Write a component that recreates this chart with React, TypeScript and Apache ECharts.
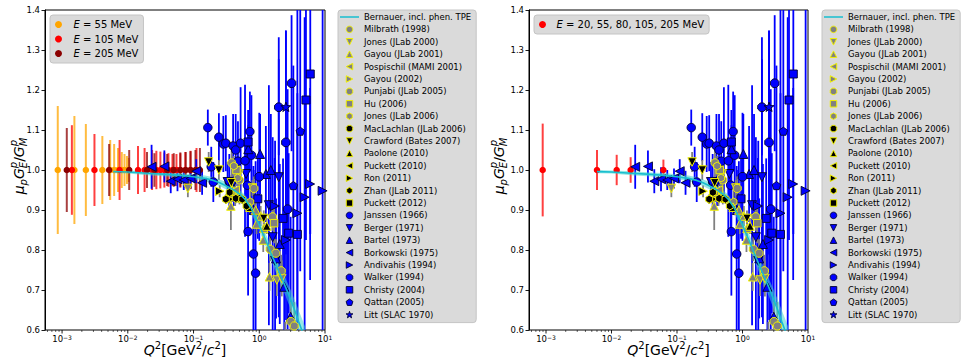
import React, { useEffect, useRef } from 'react';
import * as echarts from 'echarts';

const FONT = 'DejaVu Sans';
const CYAN = '#17becf';
const BAND = 'rgba(64,214,208,0.55)';

// Low-Q² ratios at fixed beam energy: [Q² (GeV²/c²), μp·GE/GM, uncertainty]
const e55Points = [
  [8.6e-4, 1, 0.16], [1.54e-3, 1, 0.135], [2.3e-3, 1, 0.115], [4.1e-3, 1, 0.085],
  [5.4e-3, 1, 0.075], [6.2e-3, 1, 0.065], [7.1e-3, 1, 0.055], [8.1e-3, 1, 0.045],
  [8.9e-3, 1, 0.04], [9.7e-3, 1, 0.035], [1.03e-2, 1, 0.03],
];
const e105Points = [
  [1.41e-3, 1, 0.112], [3.11e-3, 1, 0.09], [7.5e-3, 1, 0.075], [1.43e-2, 1, 0.06],
  [1.8e-2, 1, 0.055], [2.34e-2, 1, 0.05], [2.72e-2, 1, 0.048], [3.13e-2, 1, 0.046],
  [3.6e-2, 1, 0.044], [4.15e-2, 1, 0.042], [4.78e-2, 1, 0.04], [5.5e-2, 1, 0.04],
  [6.3e-2, 1, 0.042], [7.5e-2, 1, 0.045], [9.0e-2, 1, 0.048], [0.111, 1, 0.055],
];
const e205Points = [
  [1.18e-3, 1, 0.105], [5.2e-3, 1, 0.065], [1.05e-2, 1, 0.05], [1.96e-2, 1, 0.045],
  [2.54e-2, 1, 0.042], [3.97e-2, 1, 0.04], [5.0e-2, 1, 0.042], [6.3e-2, 1, 0.044],
  [7.6e-2, 1, 0.045], [9.0e-2, 1, 0.047], [0.107, 1, 0.05], [0.125, 1, 0.055],
];
const allEnergyPoints = [
  [8.9e-4, 1, 0.116], [6.0e-3, 1, 0.05], [1.2e-2, 1, 0.038], [1.96e-2, 1, 0.032], [6.2e-2, 1, 0.026],
];

// Bernauer fit including phenomenological TPE
const fitQ2 = [0.006, 0.01, 0.02, 0.04, 0.07, 0.1, 0.15, 0.2, 0.25, 0.3, 0.4, 0.5, 0.6, 0.75, 1.0, 1.25, 1.5, 2.0, 2.5, 3.0, 3.5, 4.0, 4.5, 5.0];
const fitRatio = [0.996, 0.995, 0.992, 0.989, 0.986, 0.983, 0.979, 0.974, 0.968, 0.962, 0.951, 0.94, 0.928, 0.905, 0.862, 0.825, 0.793, 0.745, 0.708, 0.676, 0.647, 0.62, 0.597, 0.576];
const fitHalfWidth = [0.004, 0.004, 0.005, 0.005, 0.006, 0.006, 0.007, 0.008, 0.008, 0.009, 0.01, 0.01, 0.011, 0.012, 0.014, 0.016, 0.018, 0.02, 0.022, 0.024, 0.026, 0.028, 0.03, 0.032];

// Polarization-transfer measurements
const milbrath1998 = [[0.38, 1.018, 0.035], [0.5, 0.975, 0.04]];
const jones2000 = [[0.082, 0.954, 0.022], [0.49, 0.99, 0.02], [0.79, 0.955, 0.02], [1.85, 0.725, 0.04], [2.2, 0.729, 0.045]];
const gayou2001 = [[0.37, 0.91, 0.06], [0.39, 0.95, 0.03], [0.88, 0.9, 0.025], [0.91, 0.865, 0.025], [1.05, 0.885, 0.025], [1.15, 0.825, 0.03], [1.17, 0.854, 0.025], [1.43, 0.733, 0.035]];
const pospischil2001 = [[0.37, 0.944, 0.04], [0.43, 0.95, 0.04]];
const gayou2002 = [[3.97, 0.52, 0.05], [4.75, 0.45, 0.06], [5.54, 0.38, 0.07]];
const punjabi2005 = [[0.83, 0.954, 0.03], [1.46, 0.802, 0.03], [1.59, 0.883, 0.035], [1.79, 0.792, 0.035], [2.16, 0.748, 0.04], [3.02, 0.621, 0.05], [3.4, 0.61, 0.06]];
const hu2006 = [[0.45, 1.0, 0.03], [1.68, 0.867, 0.05]];
const jones2006 = [[0.41, 1.01, 0.025], [0.47, 0.98, 0.025], [0.73, 0.92, 0.03]];
const maclachlan2006 = [[0.5, 0.929, 0.015]];
const crawford2007 = [[0.17, 1.02, 0.025], [0.243, 1.0, 0.025], [0.376, 0.968, 0.02], [1.17, 0.879, 0.02]];
const paolone2010 = [[0.72, 0.907, 0.015], [1.3, 0.86, 0.02]];
const puckett2010 = [[5.17, 0.443, 0.04], [6.7, 0.327, 0.05], [8.49, 0.3, 0.07]];
const ron2011 = [[0.25, 0.947, 0.015], [0.36, 0.927, 0.015]];
const zhan2011 = [[0.31, 0.927, 0.012], [0.354, 0.944, 0.012], [0.44, 0.929, 0.012], [0.55, 0.927, 0.012], [0.64, 0.91, 0.012]];
const puckett2012 = [[2.48, 0.59, 0.03], [5.17, 0.42, 0.04], [6.7, 0.33, 0.05]];

// Rosenbluth separations
const janssen1966 = [
  [0.165, 1.106, 0.045], [0.186, 1.008, 0.05], [0.2, 0.97, 0.05], [0.243, 1.082, 0.06],
  [0.284, 1.065, 0.07], [0.31, 1.067, 0.07], [0.35, 0.97, 0.07], [0.4, 1.06, 0.08],
  [0.438, 1.05, 0.09], [0.474, 1.022, 0.1], [0.52, 1.067, 0.14], [0.607, 1.023, 0.19],
  [0.66, 0.962, 0.12], [0.676, 0.846, 0.16], [0.72, 1.096, 0.1], [0.76, 1.037, 0.15],
  [0.815, 0.79, 0.22], [0.88, 0.742, 0.28],
];
const berger1971 = [[0.33, 0.97, 0.05], [0.41, 0.97, 0.06], [0.63, 0.99, 0.08], [1.4, 0.912, 0.3], [1.6, 0.832, 0.25], [1.74, 0.773, 0.3], [1.98, 0.982, 0.35]];
const bartel1973 = [[0.68, 1.052, 0.06], [0.82, 0.9, 0.1], [1.03, 1.04, 0.1], [1.26, 0.99, 0.12], [1.5, 1.0, 0.14], [1.8, 0.779, 0.15], [2.05, 0.815, 0.2], [2.4, 0.708, 0.2], [3.0, 0.633, 0.25]];
const borkowski1975 = [[0.023, 1.008, 0.055], [0.036, 1.009, 0.04], [0.045, 0.972, 0.03], [0.057, 0.977, 0.03], [0.071, 0.975, 0.025], [0.09, 0.979, 0.025], [0.11, 0.997, 0.03], [0.135, 0.968, 0.03]];
const andivahis1994 = [[1.72, 0.91, 0.12], [2.55, 0.825, 0.2], [3.8, 0.892, 0.3], [4.9, 0.932, 0.45], [5.94, 0.965, 0.24], [9.2, 0.948, 0.7]];
const walker1994 = [[1.0, 0.983, 0.16], [1.98, 1.157, 0.12], [2.54, 1.069, 0.28], [2.7, 0.902, 0.3], [3.1, 1.217, 0.17]];
const christy2004 = [[0.676, 1.07, 0.08], [0.95, 0.928, 0.1], [2.3, 0.879, 0.15], [2.8, 0.842, 0.2], [3.8, 0.839, 0.6], [5.13, 1.175, 0.35], [5.97, 1.24, 0.4]];
const qattan2005 = [[3.3, 0.961, 0.3], [4.2, 1.097, 0.35]];
const litt1970 = [[2.54, 1.158, 0.19]];

// ---- marker shapes (unit coordinates, y pointing down)
function regular(n: number, start: number, inner = 0): number[][] {
  const pts: number[][] = [];
  const count = inner ? n * 2 : n;
  for (let k = 0; k < count; k++) {
    const a = start + (Math.PI * 2 * k) / count;
    const r = inner && k % 2 ? inner : 1;
    pts.push([r * Math.cos(a), r * Math.sin(a)]);
  }
  return pts;
}
const SHAPES: Record<string, number[][]> = {
  circle: regular(24, 0),
  down: [[-1, -1], [1, -1], [0, 1]],
  up: [[0, -1], [1, 1], [-1, 1]],
  left: [[-1, 0], [1, -1], [1, 1]],
  right: [[-1, -1], [1, 0], [-1, 1]],
  square: [[-1, -1], [1, -1], [1, 1], [-1, 1]],
  pentagon: regular(5, -Math.PI / 2),
  hexagon: regular(6, -Math.PI / 2),
  octagon: regular(8, Math.PI / 8),
  star: regular(5, -Math.PI / 2, 0.4),
};
const SIZES: Record<string, number> = {
  circle: 8.5, down: 9, up: 9, left: 9, right: 9, square: 8, pentagon: 8.5, hexagon: 8.5, octagon: 8.5, star: 10,
};
function symbolPath(shape: string): string {
  const v = SHAPES[shape];
  return 'path://' + v.map((p, i) => `${i ? 'L' : 'M'}${(p[0] * 5 + 5).toFixed(3)},${(p[1] * 5 + 5).toFixed(3)}`).join(' ') + ' Z';
}

type Dataset = { name: string; shape: string; fill: string; edge: string; edgeWidth: number; data: number[][]; bar: string };
const POL_EDGE = '#f2f200';
const GREY = '#808080';
const BLUE = '#0000ff';

const polarization: Dataset[] = [
  { name: 'Milbrath (1998)', shape: 'circle', fill: GREY, data: milbrath1998 },
  { name: 'Jones (JLab 2000)', shape: 'down', fill: GREY, data: jones2000 },
  { name: 'Gayou (JLab 2001)', shape: 'up', fill: GREY, data: gayou2001 },
  { name: 'Pospischil (MAMI 2001)', shape: 'left', fill: GREY, data: pospischil2001 },
  { name: 'Gayou (2002)', shape: 'right', fill: GREY, data: gayou2002 },
  { name: 'Punjabi (JLab 2005)', shape: 'octagon', fill: GREY, data: punjabi2005 },
  { name: 'Hu (2006)', shape: 'square', fill: GREY, data: hu2006 },
  { name: 'Jones (JLab 2006)', shape: 'hexagon', fill: GREY, data: jones2006 },
  { name: 'MacLachlan (JLab 2006)', shape: 'octagon', fill: '#000', data: maclachlan2006 },
  { name: 'Crawford (Bates 2007)', shape: 'down', fill: '#000', data: crawford2007 },
  { name: 'Paolone (2010)', shape: 'up', fill: '#000', data: paolone2010 },
  { name: 'Puckett (2010)', shape: 'left', fill: '#000', data: puckett2010 },
  { name: 'Ron (2011)', shape: 'right', fill: '#000', data: ron2011 },
  { name: 'Zhan (JLab 2011)', shape: 'hexagon', fill: '#000', data: zhan2011 },
  { name: 'Puckett (2012)', shape: 'square', fill: '#000', data: puckett2012 },
].map((d) => ({ ...d, edge: POL_EDGE, edgeWidth: 1, bar: GREY }));

const rosenbluth: Dataset[] = [
  { name: 'Janssen (1966)', shape: 'circle', data: janssen1966 },
  { name: 'Berger (1971)', shape: 'down', data: berger1971 },
  { name: 'Bartel (1973)', shape: 'up', data: bartel1973 },
  { name: 'Borkowski (1975)', shape: 'left', data: borkowski1975 },
  { name: 'Andivahis (1994)', shape: 'right', data: andivahis1994 },
  { name: 'Walker (1994)', shape: 'octagon', data: walker1994 },
  { name: 'Christy (2004)', shape: 'square', data: christy2004 },
  { name: 'Qattan (2005)', shape: 'pentagon', data: qattan2005 },
  { name: 'Litt (SLAC 1970)', shape: 'star', data: litt1970 },
].map((d) => ({ ...d, fill: BLUE, edge: '#000030', edgeWidth: 0.9, bar: BLUE }));

const FIT_NAME = 'Bernauer, incl. phen. TPE';
const LEFT_ENERGIES = [
  { name: 'E = 55 MeV', color: '#ffa500', data: e55Points },
  { name: 'E = 105 MeV', color: '#ff0000', data: e105Points },
  { name: 'E = 205 MeV', color: '#8b0000', data: e205Points },
];
const RIGHT_ENERGIES = [{ name: 'E = 20, 55, 80, 105, 205 MeV', color: '#ff0000', data: allEnergyPoints }];

// ---- helpers
function errorBars(grid: number, data: number[][], color: string, width: number, opacity: number) {
  return {
    type: 'custom', xAxisIndex: grid, yAxisIndex: grid, data, clip: true, silent: true,
    encode: { x: 0, y: 1 },
    renderItem: (_p: any, api: any) => {
      const q = api.value(0), v = api.value(1), e = api.value(2);
      const a = api.coord([q, v + e]);
      const b = api.coord([q, v - e]);
      return { type: 'line', shape: { x1: a[0], y1: a[1], x2: b[0], y2: b[1] }, style: { stroke: color, lineWidth: width, opacity } };
    },
  };
}
function markers(grid: number, name: string, data: number[][], symbol: string, size: number, fill: string, edge: string, edgeWidth: number) {
  return {
    type: 'scatter', name, xAxisIndex: grid, yAxisIndex: grid, silent: true,
    data: data.map((p) => [p[0], p[1]]),
    symbol, symbolSize: size, symbolKeepAspect: true,
    itemStyle: { color: fill, borderColor: edge, borderWidth: edgeWidth, opacity: 1 },
    emphasis: { disabled: true },
  };
}

// log-axis tick positions (1..9 × 10^k)
const X_MIN = 5.5e-4, X_MAX = 10;
const xTickMarks: number[][] = [];
for (let k = -4; k <= 1; k++) {
  for (let m = 1; m <= 9; m++) {
    const v = m * Math.pow(10, k);
    if (v >= X_MIN && v <= X_MAX * 1.0001) xTickMarks.push([v, m === 1 ? 1 : 0]);
  }
}

type Run = { t: string; size: number; italic?: boolean; dy?: number; hold?: boolean };
function mathLabel(runs: Run[], cx: number, cy: number, rotation: number) {
  const ctx = document.createElement('canvas').getContext('2d') as CanvasRenderingContext2D;
  let x = 0, held = 0;
  const placed: { r: Run; x: number }[] = [];
  for (const r of runs) {
    ctx.font = `${r.italic ? 'italic ' : ''}${r.size}px "${FONT}"`;
    const w = ctx.measureText(r.t).width;
    placed.push({ r, x });
    if (r.hold) held = Math.max(held, w);
    else { x += Math.max(w, held); held = 0; }
  }
  const total = x;
  return {
    type: 'group', x: cx, y: cy, rotation, silent: true,
    children: placed.map(({ r, x: px }) => ({
      type: 'text', x: px - total / 2, y: r.dy || 0,
      style: {
        text: r.t, fontSize: r.size, fontStyle: r.italic ? 'italic' : 'normal', fontFamily: FONT, fill: '#000',
        align: 'left', verticalAlign: 'middle', textAlign: 'left', textVerticalAlign: 'middle',
      },
    })),
  };
}
const B = 14, S = 10;
const yLabelRuns: Run[] = [
  { t: 'μ', size: B, italic: true },
  { t: 'p', size: S, italic: true, dy: 4 },
  { t: 'G', size: B, italic: true },
  { t: 'p', size: S, italic: true, dy: -5.5, hold: true },
  { t: 'E', size: S, italic: true, dy: 4 },
  { t: '/', size: B },
  { t: 'G', size: B, italic: true },
  { t: 'p', size: S, italic: true, dy: -5.5, hold: true },
  { t: 'M', size: S, italic: true, dy: 4 },
];
const xLabelRuns: Run[] = [
  { t: 'Q', size: B, italic: true },
  { t: '2', size: S, dy: -5 },
  { t: '[GeV', size: B },
  { t: '2', size: S, dy: -5 },
  { t: '/', size: B },
  { t: 'c', size: B, italic: true },
  { t: '2', size: S, dy: -5 },
  { t: ']', size: B },
];

function buildOption() {
  const grids = [
    { left: 45, top: 10, width: 280, height: 320 },
    { left: 529, top: 10, width: 279, height: 320 },
  ];
  const series: any[] = [];
  [0, 1].forEach((g) => {
    // axis ticks on the log axis
    series.push({
      type: 'custom', xAxisIndex: g, yAxisIndex: g, data: xTickMarks, clip: false, silent: true,
      encode: { x: 0, y: 1 },
      renderItem: (_p: any, api: any) => {
        const p = api.coord([api.value(0), 0.6]);
        const big = api.value(1) === 1;
        return { type: 'line', shape: { x1: p[0], y1: p[1], x2: p[0], y2: p[1] + (big ? 3.5 : 2) }, style: { stroke: '#000', lineWidth: big ? 0.9 : 0.6 } };
      },
    });
    const energies = g === 0 ? LEFT_ENERGIES : RIGHT_ENERGIES;
    energies.forEach((e) => {
      series.push(errorBars(g, e.data, e.color, 2, 0.75));
      series.push(markers(g, e.name, e.data, 'circle', 6.5, e.color, e.color, 0));
    });
    rosenbluth.forEach((d) => series.push(errorBars(g, d.data, d.bar, 1.8, 1)));
    polarization.forEach((d) => series.push(errorBars(g, d.data, d.bar, 1.8, 1)));
    // fit uncertainty band
    series.push({
      type: 'custom', xAxisIndex: g, yAxisIndex: g, clip: true, silent: true,
      data: fitQ2.map((q, i) => [q, fitRatio[i]]), encode: { x: 0, y: 1 },
      renderItem: (params: any, api: any) => {
        if (params.dataIndex !== 0) return null;
        const upper = fitQ2.map((q, i) => api.coord([q, fitRatio[i] + fitHalfWidth[i]]));
        const lower = fitQ2.map((q, i) => api.coord([q, fitRatio[i] - fitHalfWidth[i]])).reverse();
        return { type: 'polygon', shape: { points: upper.concat(lower) }, style: { fill: BAND } };
      },
    });
    series.push({
      type: 'line', name: FIT_NAME, xAxisIndex: g, yAxisIndex: g, silent: true, clip: true,
      data: fitQ2.map((q, i) => [q, fitRatio[i]]), showSymbol: false, symbol: 'none',
      lineStyle: { color: CYAN, width: 1.6 }, itemStyle: { color: CYAN },
      emphasis: { disabled: true },
    });
    rosenbluth.forEach((d) => series.push(markers(g, d.name, d.data, symbolPath(d.shape), SIZES[d.shape], d.fill, d.edge, d.edgeWidth)));
    polarization.forEach((d) => series.push(markers(g, d.name, d.data, symbolPath(d.shape), SIZES[d.shape] - 0.5, d.fill, d.edge, d.edgeWidth)));
  });

  const outerItems = [
    { name: FIT_NAME, icon: 'path://M0,0 L19,0 L19,1.5 L0,1.5 Z', itemStyle: { color: CYAN, borderWidth: 0 } },
    ...polarization.concat(rosenbluth).map((d) => ({
      name: d.name, icon: symbolPath(d.shape),
      itemStyle: { color: d.fill, borderColor: d.edge, borderWidth: d.edgeWidth },
    })),
  ];
  const outerLegend = (left: number) => ({
    orient: 'vertical', left, top: 10, padding: [2, 5, 3, 2], itemWidth: 19, itemHeight: 6.5, itemGap: 2.4,
    backgroundColor: '#dadada', borderColor: '#c4c4c4', borderWidth: 1, borderRadius: 3, selectedMode: false,
    textStyle: { fontFamily: FONT, fontSize: 8.5, color: '#000', lineHeight: 10 },
    data: outerItems,
  });
  const energyLegend = (left: number, itemWidth: number, list: { name: string; color: string }[]) => ({
    orient: 'vertical', left, top: 15, padding: [4.5, 5, 4.5, 5], itemWidth, itemHeight: 7, itemGap: 4.5,
    backgroundColor: '#dadada', borderColor: '#c4c4c4', borderWidth: 1, borderRadius: 3, selectedMode: false,
    formatter: (n: string) => `{i|E}{n|${n.slice(1)}}`,
    textStyle: {
      fontFamily: FONT, fontSize: 10, color: '#000', lineHeight: 10,
      rich: {
        i: { fontFamily: FONT, fontSize: 10, fontStyle: 'italic', color: '#000', lineHeight: 10 },
        n: { fontFamily: FONT, fontSize: 10, color: '#000', lineHeight: 10 },
      },
    },
    data: list.map((e) => ({ name: e.name, icon: 'circle', itemStyle: { color: e.color, borderWidth: 0 } })),
  });

  const xAxis = [0, 1].map((g) => ({
    type: 'log', logBase: 10, gridIndex: g, min: X_MIN, max: X_MAX,
    axisLine: { show: false }, axisTick: { show: false }, splitLine: { show: false }, minorTick: { show: false },
    axisLabel: {
      show: true, margin: 4, showMaxLabel: true, showMinLabel: true, color: '#000',
      formatter: (v: number) => {
        const e = Math.log10(v);
        const k = Math.round(e);
        if (Math.abs(e - k) > 1e-6) return '';
        return `{b|10}{e|${k < 0 ? '\u2212' + -k : String(k)}}`;
      },
      rich: {
        b: { fontFamily: FONT, fontSize: 8.5, color: '#000' },
        e: { fontFamily: FONT, fontSize: 6, color: '#000', verticalAlign: 'top' },
      },
    },
  }));
  const yAxis = [0, 1].map((g) => ({
    type: 'value', gridIndex: g, min: 0.6, max: 1.4, interval: 0.1,
    axisLine: { show: true, lineStyle: { color: '#000', width: 1 } },
    axisTick: { show: true, length: 3.5, lineStyle: { color: '#000', width: 0.9 } },
    splitLine: { show: false },
    axisLabel: { margin: 5, fontFamily: FONT, fontSize: 8.5, color: '#000', formatter: (v: number) => v.toFixed(1) },
  }));

  return {
    animation: false,
    backgroundColor: '#ffffff',
    grid: grids.map((g) => ({ ...g, show: true, borderColor: '#000', borderWidth: 1, backgroundColor: 'rgba(0,0,0,0)' })),
    xAxis, yAxis,
    legend: [
      outerLegend(338),
      outerLegend(822),
      energyLegend(50, 20, LEFT_ENERGIES),
      energyLegend(534, 18, RIGHT_ENERGIES),
    ],
    graphic: [
      mathLabel(yLabelRuns, 19, 166, Math.PI / 2),
      mathLabel(yLabelRuns, 499, 166, Math.PI / 2),
      mathLabel(xLabelRuns, 185, 350, 0),
      mathLabel(xLabelRuns, 668.5, 350, 0),
    ],
    series,
  };
}

export default function App() {
  const ref = useRef<HTMLDivElement>(null);
  useEffect(() => {
    if (!ref.current) return;
    const chart = echarts.init(ref.current, undefined, { renderer: 'svg' });
    chart.setOption(buildOption() as any);
    return () => chart.dispose();
  }, []);
  return <div ref={ref} style={{ position: 'absolute', left: 0, top: 0, width: 961, height: 363 }} />;
}
